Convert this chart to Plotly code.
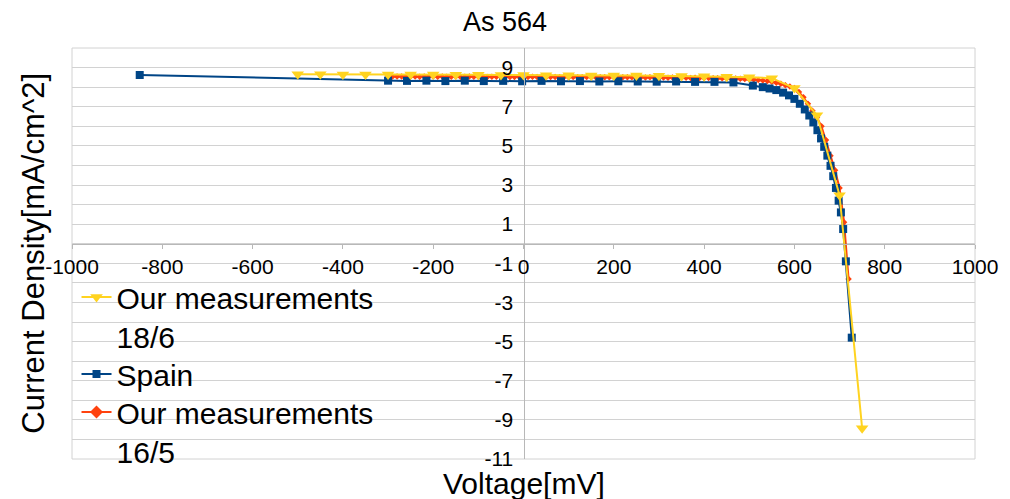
import plotly.graph_objects as go

# --- Series: current density [mA/cm^2] vs. voltage [mV] ---

# Our measurements 18/6
v_186 = [-500, -450, -400, -350, -300, -250, -200, -150, -100, -50, 0, 50, 100,
         150, 200, 250, 300, 350, 400, 450, 500, 550, 600, 650, 700, 750]
j_186 = [8.66, 8.66, 8.65, 8.65, 8.65, 8.64, 8.64, 8.63, 8.63, 8.62, 8.62, 8.61, 8.61,
         8.60, 8.60, 8.59, 8.58, 8.57, 8.56, 8.53, 8.50, 8.46, 7.95, 6.56, 2.48, -9.43]

# Spain
v_spain = [-850, -300, -258, -215, -173, -130, -88, -45, -3, 40, 83, 125, 168, 210,
           253, 295, 338, 380, 423, 465, 508, 530, 545, 560, 575, 588, 600, 612, 623,
           633, 642, 651, 659, 666, 673, 680, 686, 692, 698, 703, 708, 714, 727]
j_spain = [8.62, 8.33, 8.32, 8.33, 8.31, 8.33, 8.31, 8.32, 8.30, 8.32, 8.30, 8.31, 8.29,
           8.30, 8.29, 8.28, 8.29, 8.27, 8.27, 8.24, 8.08, 8.00, 7.93, 7.85, 7.72, 7.58,
           7.40, 7.15, 6.86, 6.55, 6.20, 5.80, 5.38, 4.95, 4.50, 3.98, 3.45, 2.85, 2.20,
           1.60, 0.75, -0.90, -4.80]

# Our measurements 16/5
v_165 = [-300, -290, -280, -270, -260, -250, -240, -230, -220, -210,
         -200, -190, -180, -170, -160, -150, -140, -130, -120, -110,
         -100, -90, -80, -70, -60, -50, -40, -30, -20, -10,
         0, 10, 20, 30, 40, 50, 60, 70, 80, 90,
         100, 110, 120, 130, 140, 150, 160, 170, 180, 190,
         200, 210, 220, 230, 240, 250, 260, 270, 280, 290,
         300, 310, 320, 330, 340, 350, 360, 370, 380, 390,
         400, 410, 420, 430, 440, 450, 460, 470, 480, 490,
         500, 510, 520, 530, 540, 550, 560, 570, 580, 590,
         600, 610, 620, 630, 640, 650, 660, 670, 680, 690,
         700, 710, 720]
j_165 = [8.55, 8.54, 8.55, 8.54, 8.54, 8.55, 8.54, 8.53, 8.54, 8.54,
         8.54, 8.53, 8.54, 8.53, 8.53, 8.54, 8.53, 8.53, 8.54, 8.53,
         8.53, 8.53, 8.52, 8.53, 8.53, 8.52, 8.53, 8.52, 8.52, 8.53,
         8.52, 8.52, 8.53, 8.52, 8.52, 8.51, 8.52, 8.52, 8.51, 8.52,
         8.51, 8.52, 8.51, 8.51, 8.52, 8.51, 8.51, 8.50, 8.51, 8.51,
         8.50, 8.51, 8.50, 8.50, 8.51, 8.50, 8.50, 8.49, 8.50, 8.49,
         8.49, 8.49, 8.48, 8.49, 8.48, 8.48, 8.48, 8.47, 8.48, 8.47,
         8.47, 8.47, 8.46, 8.46, 8.45, 8.45, 8.44, 8.44, 8.43, 8.42,
         8.41, 8.39, 8.37, 8.34, 8.31, 8.27, 8.22, 8.17, 8.10, 8.03,
         7.95, 7.75, 7.48, 7.15, 6.80, 6.45, 6.00, 5.30, 4.50, 3.75,
         2.85, 1.10, -1.80]

# Axis ticks
x_ticks = [-1000, -800, -600, -400, -200, 0, 200, 400, 600, 800, 1000]
y_ticks = [-11, -9, -7, -5, -3, -1, 1, 3, 5, 7, 9]

X_RANGE = [-1000, 1000]
Y_RANGE = [-11, 10]

FONT = "Liberation Sans"
GRID = "#d2d2d2"
LEGEND_FONT = dict(size=30, family=FONT, color="black")
RED, BLUE, YELLOW = "#FF420E", "#004586", "#FFD320"

fig = go.Figure()

# 16/5 has dense points: small markers on the curve, a full-size key in the legend
fig.add_trace(go.Scatter(
    x=v_165, y=j_165, mode="lines+markers",
    name="Our measurements<br>16/5", showlegend=False, legendgroup="m165",
    line=dict(color=RED, width=2),
    marker=dict(symbol="diamond", size=5, color=RED),
))
fig.add_trace(go.Scatter(
    x=[None], y=[None], mode="lines+markers",
    name="Our measurements<br>16/5", legend="legend3", legendgroup="m165",
    line=dict(color=RED, width=2),
    marker=dict(symbol="diamond", size=10, color=RED),
))
fig.add_trace(go.Scatter(
    x=v_spain, y=j_spain, mode="lines+markers",
    name="Spain", legend="legend2",
    line=dict(color=BLUE, width=2),
    marker=dict(symbol="square", size=8, color=BLUE),
))
fig.add_trace(go.Scatter(
    x=v_186, y=j_186, mode="lines+markers",
    name="Our measurements<br>18/6", legend="legend",
    line=dict(color=YELLOW, width=2),
    marker=dict(symbol="triangle-down", size=11, color=YELLOW),
))

# Axes cross at the origin: place the free axes at x=0 and y=0
y_zero_pos = (0 - Y_RANGE[0]) / (Y_RANGE[1] - Y_RANGE[0])
x_zero_pos = (0 - X_RANGE[0]) / (X_RANGE[1] - X_RANGE[0])


def legend_box(top):
    return dict(x=0.005, y=top, xanchor="left", yanchor="top", valign="top",
                bgcolor="rgba(0,0,0,0)", font=LEGEND_FONT, itemsizing="trace")


fig.update_layout(
    width=1010, height=499,
    margin=dict(l=72, r=30, t=48, b=40),
    paper_bgcolor="white", plot_bgcolor="white",
    font=dict(family=FONT, color="black"),
    title=dict(text="As 564", x=0.5, xanchor="center", y=1 - 22 / 499,
               yanchor="middle", yref="container", font=dict(size=27, family=FONT)),
    xaxis=dict(
        range=X_RANGE, tickmode="array", tickvals=x_ticks,
        ticktext=[str(t) for t in x_ticks],
        anchor="free", position=y_zero_pos,
        showgrid=False, zeroline=False,
        showline=True, linecolor="#b8b8b8", linewidth=1,
        ticks="outside", ticklen=4, tickcolor="#b8b8b8",
        tickfont=dict(size=21, family=FONT, color="black"),
    ),
    yaxis=dict(
        range=Y_RANGE, tickmode="array", tickvals=y_ticks,
        ticktext=[str(t) for t in y_ticks],
        anchor="free", position=x_zero_pos,
        showgrid=True, gridcolor=GRID, gridwidth=1,
        minor=dict(dtick=1, tick0=0, showgrid=True, gridcolor=GRID, gridwidth=1),
        zeroline=False,
        showline=True, linecolor="#b8b8b8", linewidth=1,
        ticks="", ticklabelstandoff=6,
        tickfont=dict(size=21, family=FONT, color="black"),
    ),
    legend=legend_box(0.4574),
    legend2=legend_box(0.270),
    legend3=legend_box(0.1776),
    showlegend=True,
)

# Plot-area frame
fig.add_shape(type="rect", xref="paper", yref="paper", x0=0, y0=0, x1=1, y1=1,
              line=dict(color=GRID, width=1), layer="below")

# Axis titles
fig.add_annotation(text="Voltage[mV]", xref="paper", yref="paper",
                   x=0.5, y=-0.06, xanchor="center", yanchor="middle",
                   showarrow=False, font=dict(size=30, family=FONT, color="black"))
fig.add_annotation(text="Current Density[mA/cm^2]", xref="paper", yref="paper",
                   x=-0.043, y=0.5, xanchor="center", yanchor="middle", textangle=-90,
                   showarrow=False, font=dict(size=31, family=FONT, color="black"))

fig.write_html("out.html")
